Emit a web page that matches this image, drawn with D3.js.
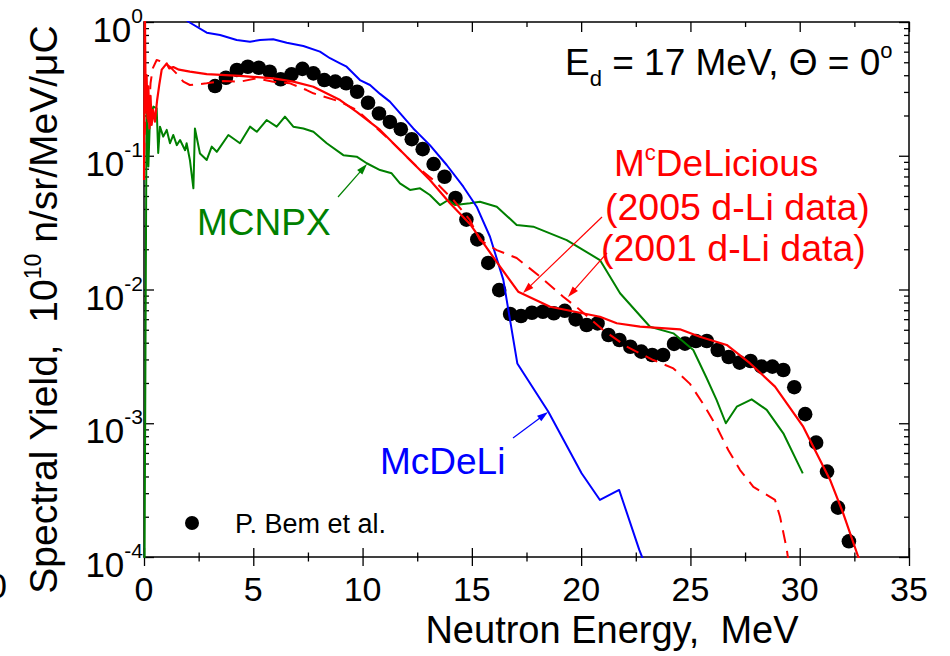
<!DOCTYPE html>
<html>
<head>
<meta charset="utf-8">
<script src="https://cdn.jsdelivr.net/npm/d3@7"></script>
<style>
body { margin: 0; background: #fff; }
svg { font-family: "Liberation Sans", Arial, sans-serif; }
</style>
</head>
<body>
<svg id="chart" width="950" height="656"></svg>
<script>
// P. Bem et al. (measured)
var bemE = [3.25, 3.75, 4.25, 4.75, 5.25, 5.75, 6.25, 6.75, 7.25, 7.75, 8.25, 8.75, 9.25, 9.75,
            10.25, 10.75, 11.25, 11.75, 12.25, 12.75, 13.25, 13.75, 14.25, 14.75, 15.25, 15.75,
            16.25, 16.75, 17.25, 17.75, 18.25, 18.75, 19.25, 19.75, 20.25, 20.75, 21.25, 21.75,
            22.25, 22.75, 23.25, 23.75, 24.25, 24.75, 25.25, 25.75, 26.25, 26.75, 27.25, 27.75,
            28.25, 28.75, 29.25, 29.75, 30.25, 30.75, 31.25, 31.75, 32.25];
var bemY = [0.332, 0.383, 0.438, 0.463, 0.455, 0.425, 0.373, 0.406, 0.446, 0.413, 0.368, 0.358, 0.348, 0.301,
            0.249, 0.207, 0.179, 0.158, 0.133, 0.112, 0.0867, 0.0697, 0.0483, 0.0333, 0.0237, 0.0158,
            0.0099, 0.00656, 0.00634, 0.0067, 0.00682, 0.00664, 0.00693, 0.00598, 0.00543, 0.00558, 0.00457, 0.00419,
            0.00373, 0.00343, 0.00324, 0.00324, 0.00392, 0.00394, 0.00412, 0.00412, 0.00353, 0.00313, 0.00284, 0.00292,
            0.00265, 0.00265, 0.0025, 0.00186, 0.00117, 0.000716, 0.000435, 0.000234, 0.000131];

// McDeLi
var mcdeliE = [0, 1.0, 2.05, 2.87, 3.48, 4.24, 4.85, 5.31, 5.91, 6.53, 7.29, 8.05, 8.51, 8.97, 9.27, 9.88,
               10.34, 10.80, 11.25, 12.32, 13.08, 13.85, 14.61, 15.22, 15.83, 16.44, 17.08, 18.50, 20.02,
               20.86, 21.74, 22.66, 22.9];
var mcdeliY = [1.9, 1.35, 1.0, 0.832, 0.80, 0.733, 0.713, 0.733, 0.743, 0.70, 0.662, 0.60, 0.536, 0.491, 0.463, 0.368,
               0.338, 0.29, 0.254, 0.160, 0.120, 0.0853, 0.0587, 0.0416, 0.0248, 0.0118, 0.0028, 0.00122, 0.000423,
               0.000267, 0.000317, 0.000113, 0.00009];

// MCNPX
var mcnpxE = [0, 0.12, 0.20, 0.27, 0.43, 0.58, 0.65, 0.73, 0.88, 1.04, 1.19, 1.34, 1.50, 1.65, 1.88, 1.95,
              2.10, 2.26, 2.33, 2.56, 2.87, 3.10, 3.33, 3.86, 4.39, 4.85, 5.16, 5.61, 6.07, 6.45, 6.83, 7.29,
              7.75, 8.36, 9.12, 9.73, 10.19, 10.80, 11.33, 11.71, 12.17, 12.63, 13.08, 13.54, 13.92, 14.23,
              14.91, 15.37, 16.14, 17.05, 17.81, 19.34, 20.86, 21.78, 23.15, 24.22, 25.13, 25.74, 26.20,
              26.62, 27.12, 27.80, 28.49, 29.25, 30.14];
var mcnpxY = [0.00001, 0.30, 0.083, 0.185, 0.233, 0.226, 0.105, 0.165, 0.139, 0.156, 0.124, 0.143, 0.120, 0.131, 0.110, 0.124,
              0.093, 0.0571, 0.160, 0.104, 0.093, 0.117, 0.107, 0.143, 0.124, 0.165, 0.151, 0.185, 0.165, 0.196, 0.165, 0.160,
              0.151, 0.124, 0.101, 0.0984, 0.0879, 0.0782, 0.0739, 0.0622, 0.0555, 0.0571, 0.0509, 0.0428, 0.0467, 0.0428,
              0.0441, 0.0453, 0.0416, 0.0304, 0.0295, 0.0234, 0.0166, 0.00937, 0.00527, 0.0047, 0.00353, 0.00218, 0.00149,
              0.001, 0.00133, 0.00151, 0.00126, 0.000841, 0.000422];

// McDeLicious, 2005 d-Li data (solid)
var del05E = [0, 0.04, 0.08, 0.12, 0.16, 0.20, 0.25, 0.30, 0.35, 0.42, 0.50, 0.60, 0.70, 0.81, 0.95, 1.04,
              1.15, 1.34, 1.6, 2.10, 2.87, 4.39, 5.92, 6.83, 7.75, 8.97, 9.73, 10.80, 12.17, 13.08, 14.00,
              14.91, 16.29, 17.12, 18.58, 20.86, 21.63, 22.69, 24.52, 25.43, 26.66, 27.72, 28.87, 30.16,
              31.39, 31.99, 32.68, 32.8];
var del05Y = [0.066, 1.3, 0.22, 0.40, 0.19, 0.33, 0.16, 0.28, 0.17, 0.22, 0.18, 0.26, 0.34, 0.44, 0.47, 0.49,
              0.45, 0.46, 0.44, 0.425, 0.408, 0.395, 0.379, 0.358, 0.328, 0.261, 0.213, 0.156, 0.0929, 0.0659, 0.0441,
              0.0309, 0.0148, 0.00963, 0.00743, 0.00626, 0.00559, 0.00527, 0.00504, 0.00443, 0.00385, 0.00281, 0.00188, 0.000942,
              0.000377, 0.000212, 0.0001, 0.00009];

// McDeLicious, 2001 d-Li data (dashed)
var del01E = [0, 0.1, 0.2, 0.3, 0.4, 0.58, 0.9, 1.2, 1.5, 1.80, 2.10, 2.87, 3.63, 4.39, 5.16, 5.92, 6.68,
              7.44, 7.75, 8.97, 9.73, 11.25, 12.48, 13.24, 14.15, 14.91, 15.37, 16.14, 17.05, 18.12, 19.18,
              19.95, 21.01, 22.08, 23.30, 24.22, 24.98, 25.59, 26.20, 26.73, 27.27, 27.88, 28.87, 29.10,
              29.40, 29.5];
var del01Y = [0.1, 0.3, 0.18, 0.35, 0.45, 0.52, 0.5, 0.46, 0.41, 0.358, 0.338, 0.348, 0.362, 0.358, 0.379, 0.358, 0.348,
              0.310, 0.293, 0.254, 0.220, 0.131, 0.0828, 0.0659, 0.0467, 0.0331, 0.0234, 0.0197, 0.0172, 0.0125, 0.00884,
              0.00703, 0.00498, 0.00374, 0.00297, 0.00257, 0.00197, 0.00139, 0.000942, 0.000631, 0.000447, 0.000335, 0.000267, 0.0002,
              0.000116, 0.00009];

var xMajor = [0, 5, 10, 15, 20, 25, 30, 35],
    xMinor = [2.5, 7.5, 12.5, 17.5, 22.5, 27.5, 32.5],
    yExp = [0, -1, -2, -3, -4];

var green = "#008000", blue = "#0000ff", red = "#ff0000";

function drawChart() {
    var svg = d3.select("#chart"),
        margin = {top: 22, left: 144, right: 41, bottom: 99},
        width = 950 - margin.left - margin.right,
        height = 656 - margin.top - margin.bottom;

    var xScale = d3.scaleLinear().domain([0, 35]).range([0, width]),
        yScale = d3.scaleLog().domain([1e-4, 1]).range([height, 0]);

    var yMajor = yExp.map(function(e) { return Math.pow(10, e); }),
        yMinor = [];
    yExp.slice(1).forEach(function(e) {
        for (var k = 2; k <= 9; k++) yMinor.push(k * Math.pow(10, e));
    });

    var g = svg.append("g")
        .attr("transform", "translate(" + margin.left + "," + margin.top + ")");

    function ticks(axis, vals, size, tx, ty) {
        g.append("g")
            .attr("transform", "translate(" + tx + "," + ty + ")")
            .call(axis.tickValues(vals).tickSize(size).tickFormat(""))
            .call(function(a) { a.select(".domain").remove(); })
            .selectAll("line").attr("stroke", "#000").attr("stroke-width", 1.3);
    }

    // bottom ticks cross the axis, the other three sides point inward
    ticks(d3.axisBottom(xScale), xMajor, 9, 0, height);
    ticks(d3.axisTop(xScale), xMajor, 9, 0, height);
    ticks(d3.axisBottom(xScale), xMinor, 4.5, 0, height);
    ticks(d3.axisTop(xScale), xMinor, 4.5, 0, height);
    ticks(d3.axisBottom(xScale), xMajor, 10, 0, 0);
    ticks(d3.axisBottom(xScale), xMinor, 5, 0, 0);
    ticks(d3.axisRight(yScale), yMajor, 10, 0, 0);
    ticks(d3.axisRight(yScale), yMinor, 5, 0, 0);
    ticks(d3.axisLeft(yScale), yMajor, 10, width, 0);
    ticks(d3.axisLeft(yScale), yMinor, 5, width, 0);

    g.append("rect")
        .attr("width", width).attr("height", height)
        .attr("fill", "none").attr("stroke", "#000").attr("stroke-width", 1.5);

    // tick labels
    g.selectAll(".xlab").data(xMajor).enter().append("text")
        .attr("x", function(d) { return xScale(d); })
        .attr("y", height + 44)
        .attr("text-anchor", "middle")
        .attr("font-size", 34)
        .text(function(d) { return d; });

    var yl = g.selectAll(".ylab").data(yExp).enter().append("text")
        .attr("x", -1)
        .attr("y", function(d) { return yScale(Math.pow(10, d)) + 20; })
        .attr("text-anchor", "end")
        .attr("font-size", 35);
    yl.append("tspan").text("10");
    yl.append("tspan").attr("dy", -19).attr("font-size", 21)
        .text(function(d) { return d; });

    // axis titles
    g.append("text")
        .attr("x", 468).attr("y", height + 86)
        .attr("text-anchor", "middle")
        .attr("font-size", 38)
        .text("Neutron Energy,\u00a0 MeV");

    var yt = g.append("text")
        .attr("transform", "rotate(-90)")
        .attr("x", -(height / 2 + 20)).attr("y", -87)
        .attr("text-anchor", "middle")
        .attr("font-size", 39);
    yt.append("tspan").text("Spectral Yield,\u00a0 10");
    yt.append("tspan").attr("dy", -16).attr("font-size", 23).text("10");
    yt.append("tspan").attr("dy", 16).text(" n/sr/MeV/\u03bcC");

    svg.append("text")
        .attr("x", 7).attr("y", 598)
        .attr("text-anchor", "end")
        .attr("font-size", 35)
        .text("0");

    // curves
    g.append("clipPath").attr("id", "clip")
        .append("rect").attr("x", -1.5).attr("y", -1).attr("width", width + 3).attr("height", height + 2);

    var plot = g.append("g").attr("clip-path", "url(#clip)");

    plot.selectAll(".dot")
        .data(d3.zip(bemE, bemY))
        .enter().append("circle")
        .attr("cx", function(d) { return xScale(d[0]); })
        .attr("cy", function(d) { return yScale(d[1]); })
        .attr("r", 7.3)
        .attr("fill", "#000");

    var line = d3.line()
        .x(function(d) { return xScale(d[0]); })
        .y(function(d) { return yScale(d[1]); });

    var series = [
        {e: mcnpxE, v: mcnpxY, color: green, dash: null, w: 2},
        {e: mcdeliE, v: mcdeliY, color: blue, dash: null, w: 2},
        {e: del01E, v: del01Y, color: red, dash: "13,8", w: 2},
        {e: del05E, v: del05Y, color: red, dash: null, w: 2.2}
    ];
    series.forEach(function(s) {
        plot.append("path")
            .datum(d3.zip(s.e, s.v))
            .attr("d", line)
            .attr("fill", "none")
            .attr("stroke", s.color)
            .attr("stroke-width", s.w)
            .attr("stroke-dasharray", s.dash)
            .attr("stroke-linejoin", "round");
    });

    // annotations
    function arrow(x1, y1, x2, y2, color) {
        var a = Math.atan2(y2 - y1, x2 - x1), len = 11, hw = 3.5;
        g.append("line")
            .attr("x1", x1 - margin.left).attr("y1", y1 - margin.top)
            .attr("x2", x2 - margin.left - len * Math.cos(a) * 0.8).attr("y2", y2 - margin.top - len * Math.sin(a) * 0.8)
            .attr("stroke", color).attr("stroke-width", 1.2);
        var bx = x2 - len * Math.cos(a), by = y2 - len * Math.sin(a);
        g.append("path")
            .attr("d", "M" + (x2 - margin.left) + "," + (y2 - margin.top) +
                "L" + (bx - hw * Math.sin(a) - margin.left) + "," + (by + hw * Math.cos(a) - margin.top) +
                "L" + (bx + hw * Math.sin(a) - margin.left) + "," + (by - hw * Math.cos(a) - margin.top) + "Z")
            .attr("fill", color);
    }

    function label(x, y, color, size) {
        return svg.append("text").attr("x", x).attr("y", y)
            .attr("fill", color).attr("font-size", size || 37);
    }

    label(197, 235, green).text("MCNPX");
    arrow(338, 197, 367, 164, green);

    label(380, 474, blue).text("McDeLi");
    arrow(513, 438, 548, 412, blue);

    var mc = label(614, 176, red);
    mc.append("tspan").text("M");
    mc.append("tspan").attr("dy", -16).attr("font-size", 22).text("c");
    mc.append("tspan").attr("dy", 16).text("DeLicious");
    label(605, 220, red, 37.5).text("(2005 d-Li data)");
    label(601, 261, red, 37.5).text("(2001 d-Li data)");
    arrow(602, 217, 523, 293, red);
    arrow(607, 253, 568, 297, red);

    var ed = label(565, 75, "#000");
    ed.append("tspan").text("E");
    ed.append("tspan").attr("dy", 11).attr("font-size", 22).text("d");
    ed.append("tspan").attr("dy", -11).text(" = 17 MeV, \u0398 = 0");
    ed.append("tspan").attr("dy", -17).attr("font-size", 22).text("o");

    svg.append("circle").attr("cx", 192).attr("cy", 523).attr("r", 7).attr("fill", "#000");
    label(235, 533, "#000", 27).text("P. Bem et al.");
}

drawChart();
</script>
</body>
</html>
